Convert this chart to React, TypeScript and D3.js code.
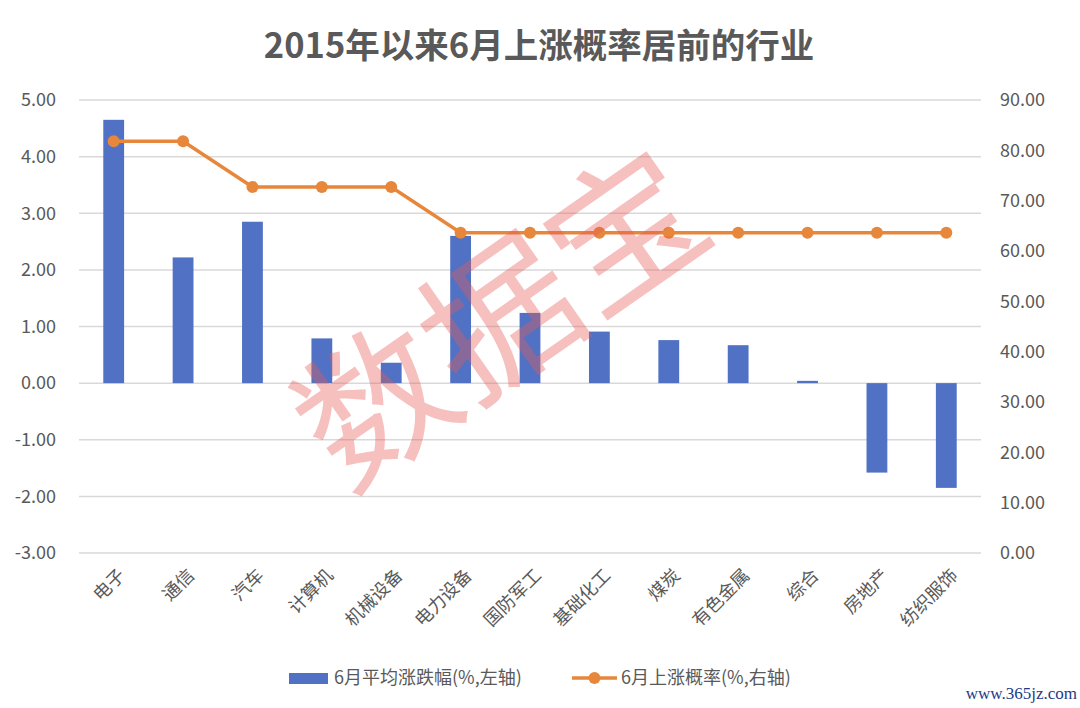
import React from 'react';
import * as d3 from 'd3';

const categories = ['电子', '通信', '汽车', '计算机', '机械设备', '电力设备', '国防军工', '基础化工', '煤炭', '有色金属', '综合', '房地产', '纺织服饰'];
const avgChange = [4.65, 2.22, 2.85, 0.79, 0.36, 2.6, 1.24, 0.91, 0.76, 0.67, 0.04, -1.58, -1.85];
const upProb = [81.82, 81.82, 72.73, 72.73, 72.73, 63.64, 63.64, 63.64, 63.64, 63.64, 63.64, 63.64, 63.64];
const leftTicks = [5, 4, 3, 2, 1, 0, -1, -2, -3];
const rightTicks = [90, 80, 70, 60, 50, 40, 30, 20, 10, 0];

const W = 1080;
const H = 708;
const plot = { left: 79, right: 981, top: 100, bottom: 553 };
const FONT = '"Noto Sans CJK SC", "Noto Sans", sans-serif';
const BLUE = '#5171C5';
const ORANGE = '#E6873C';
const GREY = '#595959';

export default function App() {
  const x = d3.scaleBand().domain(categories).range([plot.left, plot.right]).paddingInner(0.7).paddingOuter(0.35);
  const yL = d3.scaleLinear().domain([-3, 5]).range([plot.bottom, plot.top]);
  const yR = d3.scaleLinear().domain([0, 90]).range([plot.bottom, plot.top]);
  const cx = (c: string) => (x(c) ?? 0) + x.bandwidth() / 2;

  const line = d3.line<number>()
    .x((_, i) => cx(categories[i]))
    .y((d) => yR(d));

  return (
    <svg width={W} height={H} style={{ position: 'absolute', left: 0, top: 0, background: '#fff' }} fontFamily={FONT}>
      <text x={539} y={58} textAnchor="middle" fontSize={34.5} fontWeight="bold" fill={GREY}>
        2015年以来6月上涨概率居前的行业
      </text>

      {/* gridlines */}
      {leftTicks.map((t) => (
        <line key={t} x1={plot.left} x2={plot.right} y1={yL(t)} y2={yL(t)} stroke="#d9d9d9" strokeWidth={1.5} />
      ))}

      {/* left axis labels */}
      {leftTicks.map((t) => (
        <text key={'l' + t} x={56} y={yL(t)} dy="0.35em" textAnchor="end" fontSize={18} fill={GREY}>
          {t.toFixed(2)}
        </text>
      ))}

      {/* right axis labels */}
      {rightTicks.map((t) => (
        <text key={'r' + t} x={1000} y={yR(t)} dy="0.35em" textAnchor="start" fontSize={18} fill={GREY}>
          {t.toFixed(2)}
        </text>
      ))}

      {/* bars */}
      {avgChange.map((v, i) => (
        <rect
          key={categories[i]}
          x={x(categories[i])}
          y={yL(Math.max(0, v))}
          width={x.bandwidth()}
          height={Math.abs(yL(v) - yL(0))}
          fill={BLUE}
        />
      ))}

      {/* line */}
      <path d={line(upProb) ?? ''} fill="none" stroke={ORANGE} strokeWidth={3.5} />
      {upProb.map((v, i) => (
        <circle key={'p' + i} cx={cx(categories[i])} cy={yR(v)} r={6} fill={ORANGE} />
      ))}

      {/* x labels */}
      {categories.map((c) => (
        <text
          key={'x' + c}
          transform={`translate(${cx(c) + 8},${572}) rotate(-45)`}
          dy="0.35em"
          textAnchor="end"
          fontSize={18}
          fill={GREY}
        >
          {c}
        </text>
      ))}

      {/* watermark */}
      <text
        transform="translate(502,320) rotate(-35)"
        textAnchor="middle"
        dy="0.35em"
        fontSize={152}
        fill="rgb(228,90,85)"
        fillOpacity={0.38}
      >
        数据宝
      </text>

      {/* legend */}
      <rect x={289} y={673} width={39} height={11} fill={BLUE} />
      <text x={334} y={678} dy="0.35em" fontSize={18} fill={GREY}>6月平均涨跌幅(%,左轴)</text>
      <line x1={572} x2={617} y1={678} y2={678} stroke={ORANGE} strokeWidth={3.5} />
      <circle cx={594.5} cy={678} r={6} fill={ORANGE} />
      <text x={621} y={678} dy="0.35em" fontSize={18} fill={GREY}>6月上涨概率(%,右轴)</text>

      <text x={1077} y={693} dy="0.35em" textAnchor="end" fontSize={17} fill="#1d3b86" fontFamily='"Liberation Serif", serif'>
        www.365jz.com
      </text>
    </svg>
  );
}
